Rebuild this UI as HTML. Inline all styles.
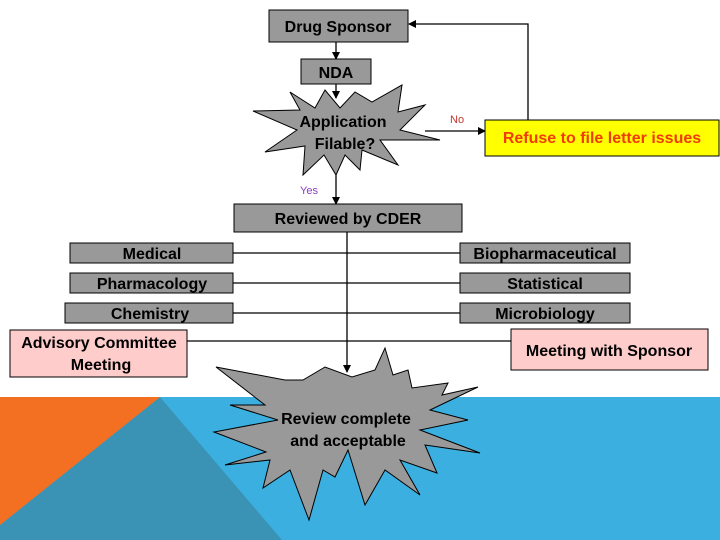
<!DOCTYPE html>
<html><head><style>
body{margin:0;width:720px;height:540px;overflow:hidden;background:#fff;font-family:"Liberation Sans",Arial,sans-serif}
svg{display:block}
text{font-family:"Liberation Sans",Arial,sans-serif;font-weight:bold}
</style></head><body>
<svg width="720" height="540" viewBox="0 0 720 540">
<defs><marker id="a" markerWidth="8" markerHeight="8" refX="7" refY="4" orient="auto" markerUnits="userSpaceOnUse"><path d="M0,0 L8,4 L0,8z" fill="#000"/></marker></defs>
<rect x="0" y="397" width="720" height="143" fill="#3bb0e0"/>
<polygon points="160,397 282,540 0,540 0,525" fill="#3a93b5"/>
<polygon points="0,397 160,397 0,525" fill="#f36f21"/>
<g stroke="#000" stroke-width="1.3" fill="none">
<line x1="336" y1="42" x2="336" y2="59" marker-end="url(#a)"/>
<line x1="336" y1="84" x2="336" y2="98" marker-end="url(#a)"/>
<line x1="336" y1="175" x2="336" y2="204" marker-end="url(#a)"/>
<line x1="425" y1="131" x2="485" y2="131" marker-end="url(#a)"/>
<polyline points="528,120 528,24 409,24" marker-end="url(#a)"/>
<line x1="347" y1="232" x2="347" y2="372" marker-end="url(#a)"/>
<line x1="233" y1="253" x2="460" y2="253"/>
<line x1="233" y1="283" x2="460" y2="283"/>
<line x1="233" y1="313" x2="460" y2="313"/>
<line x1="187" y1="341" x2="511" y2="341"/>
</g>
<g stroke="#000" stroke-width="1" fill="#999">
<rect x="269" y="10" width="139" height="32"/>
<rect x="301" y="59" width="70" height="25"/>
<polygon points="290,92 300,110 253,111 297,130 265,152 305,146 303,175 324,155 336,175 345,155 360,170 362,150 398,165 380,140 440,140 400,130 425,105 398,112 402,85 372,102 355,92 340,108 325,90 315,108"/>
<rect x="234" y="204" width="228" height="28"/>
<rect x="70" y="243" width="163" height="20"/>
<rect x="70" y="273" width="163" height="20"/>
<rect x="65" y="303" width="168" height="20"/>
<rect x="460" y="243" width="170" height="20"/>
<rect x="460" y="273" width="170" height="20"/>
<rect x="460" y="303" width="170" height="20"/>
<polygon points="216,367 265,405 230,405 278,420 214,432 266,452 225,465 270,460 263,488 290,470 309,520 323,470 335,477 348,450 365,505 385,470 420,495 400,460 437,473 425,445 480,453 420,430 468,420 430,410 478,387 442,395 448,383 412,388 408,370 393,375 385,348 375,370 352,377 325,367 303,380 285,380"/>
</g>
<rect x="485" y="120" width="234" height="36" fill="#ffff00" stroke="#000" stroke-width="1"/>
<rect x="10" y="330" width="177" height="47" fill="#ffcccc" stroke="#000" stroke-width="1"/>
<rect x="511" y="329" width="197" height="41" fill="#ffcccc" stroke="#000" stroke-width="1"/>
<g font-size="16" fill="#000" text-anchor="middle">
<text x="338" y="32">Drug Sponsor</text>
<text x="336" y="78">NDA</text>
<text x="343" y="127">Application</text>
<text x="345" y="149">Filable?</text>
<text x="348" y="224">Reviewed by CDER</text>
<text x="152" y="259">Medical</text>
<text x="152" y="289">Pharmacology</text>
<text x="150" y="319">Chemistry</text>
<text x="545" y="259">Biopharmaceutical</text>
<text x="545" y="289">Statistical</text>
<text x="545" y="319">Microbiology</text>
<text x="99" y="348">Advisory Committee</text>
<text x="101" y="370">Meeting</text>
<text x="609" y="356">Meeting with Sponsor</text>
<text x="346" y="424">Review complete</text>
<text x="348" y="446">and acceptable</text>
<text x="602" y="143" fill="#f03c0a">Refuse to file letter issues</text>
</g>
<text x="450" y="123" font-size="11" fill="#c0392b" style="font-weight:normal">No</text>
<text x="300" y="194" font-size="11" fill="#8a3fbf" style="font-weight:normal">Yes</text>
</svg>
</body></html>
